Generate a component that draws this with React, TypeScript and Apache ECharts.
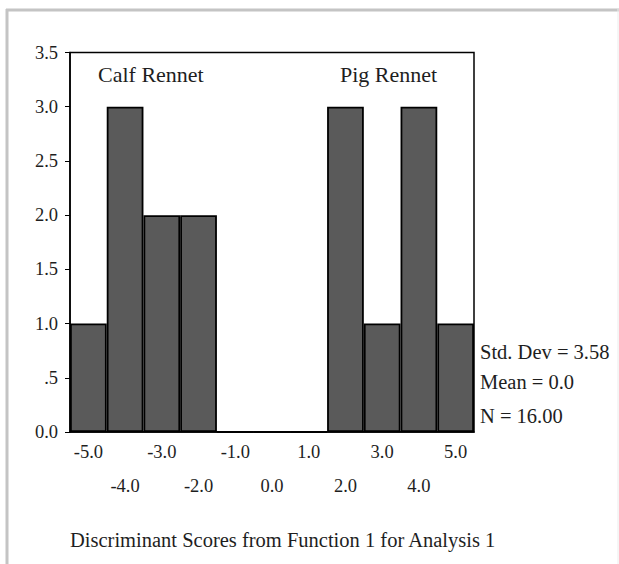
import React, { useEffect, useRef } from "react";
import * as echarts from "echarts";

const binCenters = [-5, -4, -3, -2, -1, 0, 1, 2, 3, 4, 5];
const counts = [1, 3, 2, 2, 0, 0, 0, 3, 1, 3, 1];
const yTicks = [0, 0.5, 1, 1.5, 2, 2.5, 3, 3.5];
const groupLabels = ["Calf Rennet", "Pig Rennet"];
const statLines = ["Std. Dev = 3.58", "Mean = 0.0", "N = 16.00"];
const xTitle = "Discriminant Scores from Function 1 for Analysis 1";

const FONT = "'Liberation Serif', 'Times New Roman', serif";
const TXT = "#1e1e1e";

export default function App() {
  const ref = useRef<HTMLDivElement>(null);
  useEffect(() => {
    if (!ref.current) return;
    const chart = echarts.init(ref.current, undefined, { renderer: "svg" });
    const gridLeft = 70;
    const gridTop = 52.5;
    const gridWidth = 404;
    const gridHeight = 379.5;
    chart.setOption({
      animation: false,
      backgroundColor: "#ffffff",
      grid: {
        left: gridLeft,
        top: gridTop,
        width: gridWidth,
        height: gridHeight,
        show: true,
        borderColor: "#000",
        borderWidth: 1.5,
        backgroundColor: "transparent",
      },
      xAxis: {
        type: "category",
        data: binCenters.map((v) => v.toFixed(1)),
        boundaryGap: true,
        axisLine: { lineStyle: { color: "#000", width: 1.5 } },
        axisTick: { alignWithLabel: true, length: 4, lineStyle: { color: "#000", width: 1 } },
        axisLabel: {
          interval: 0,
          margin: 3,
          fontFamily: FONT,
          fontSize: 18.5,
          color: TXT,
          lineHeight: 34,
          formatter: (val: string, idx: number) => (idx % 2 === 0 ? val : "\n" + val),
        },
        splitLine: { show: false },
      },
      yAxis: {
        type: "value",
        min: 0,
        max: 3.5,
        interval: 0.5,
        axisLine: { show: true, lineStyle: { color: "#000", width: 1.5 } },
        axisTick: { show: true, length: 5, lineStyle: { color: "#000", width: 1 } },
        axisLabel: {
          margin: 12,
          fontFamily: FONT,
          fontSize: 18.5,
          color: TXT,
          formatter: (v: number) => {
            const near = yTicks.find((t) => Math.abs(t - v) < 1e-9);
            const val = near === undefined ? v : near;
            return val === 0.5 ? ".5" : val.toFixed(1);
          },
        },
        splitLine: { show: false },
      },
      series: [
        {
          type: "bar",
          data: counts,
          barCategoryGap: "0%",
          itemStyle: { color: "#5a5a5a", borderColor: "#000", borderWidth: 1.8 },
        },
      ],
      graphic: [
        { type: "line", shape: { x1: 6, y1: 10, x2: 619, y2: 10 }, style: { stroke: "#c4c4c4", lineWidth: 3 } },
        { type: "line", shape: { x1: 7, y1: 9, x2: 7, y2: 564 }, style: { stroke: "#c4c4c4", lineWidth: 3 } },
        { type: "line", shape: { x1: 618, y1: 9, x2: 618, y2: 564 }, style: { stroke: "#ececec", lineWidth: 1 } },
        {
          type: "text",
          left: 98,
          top: 63,
          style: { text: groupLabels[0], font: `22px ${FONT}`, fill: TXT },
        },
        {
          type: "text",
          left: 340,
          top: 63,
          style: { text: groupLabels[1], font: `22px ${FONT}`, fill: TXT },
        },
        ...statLines.map((s, i) => ({
          type: "text",
          left: 480,
          top: [341, 371, 405][i],
          style: { text: s, font: `20.5px ${FONT}`, fill: TXT },
        })),
        {
          type: "text",
          left: 70,
          top: 529,
          style: { text: xTitle, font: `20.5px ${FONT}`, fill: TXT },
        },
      ],
    });
    return () => chart.dispose();
  }, []);
  return (
    <div
      ref={ref}
      style={{ position: "fixed", left: 0, top: 0, width: 619, height: 564 }}
    />
  );
}
